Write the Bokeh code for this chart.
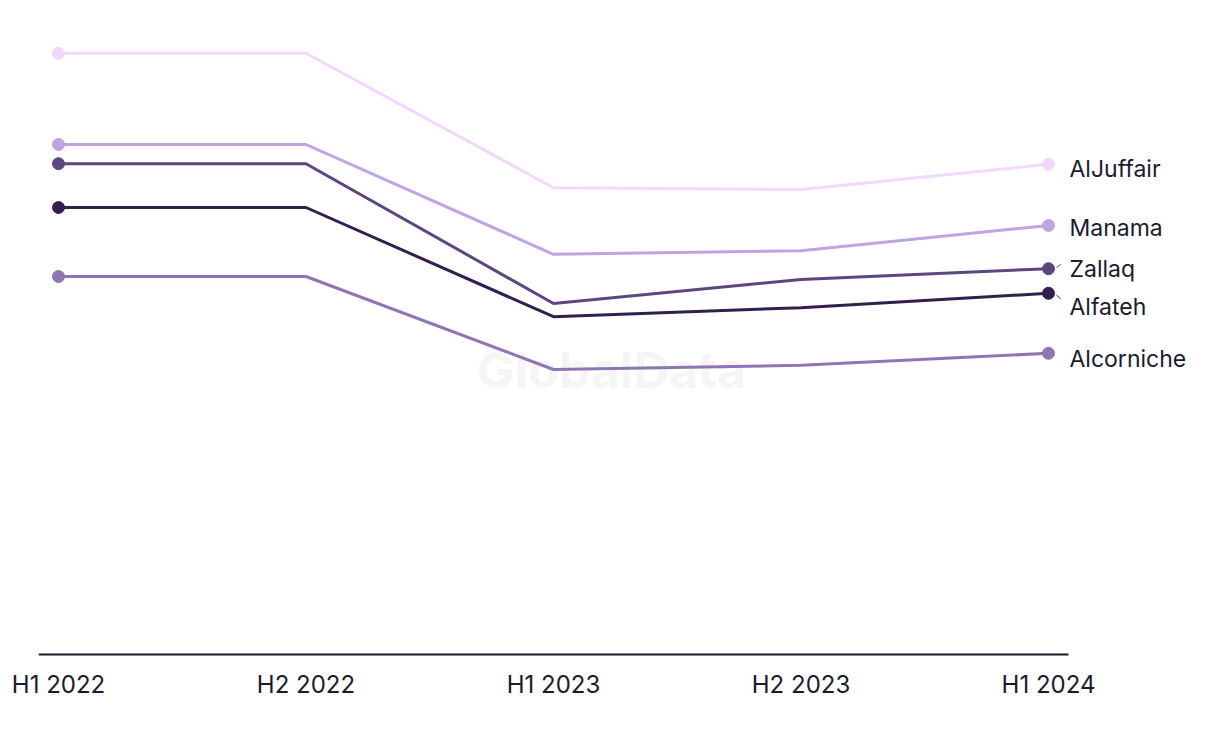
from bokeh.plotting import figure
from bokeh.models import ColumnDataSource, FixedTicker, Range1d
from bokeh.core.properties import value
from bokeh.embed import file_html
from bokeh.resources import INLINE

periods = ["H1 2022", "H2 2022", "H1 2023", "H2 2023", "H1 2024"]
aljuffair = [100.2, 100.2, 77.8, 77.5, 81.7]
manama = [85.0, 85.0, 66.7, 67.3, 71.5]
zallaq = [81.8, 81.8, 58.5, 62.5, 64.3]
alfateh = [74.5, 74.5, 56.3, 57.8, 60.2]
alcorniche = [63.0, 63.0, 47.5, 48.2, 50.2]

series = [
    ("AlJuffair", aljuffair, "#F2D9FB", -5),
    ("Manama", manama, "#C0A4E1", -2),
    ("Zallaq", zallaq, "#5D4680", 0),
    ("Alfateh", alfateh, "#331F4F", -14),
    ("Alcorniche", alcorniche, "#8F76B3", -6),
]

TEXT = "#1B1A2E"
FONT = "Inter"

xs = list(range(len(periods)))
ppu = 247.5  # px per category step
p = figure(width=1220, height=744, output_backend="svg", toolbar_location=None,
           x_range=Range1d(-20 / ppu, 4 + 172 / ppu), y_range=Range1d(-0.5, 109),
           min_border_left=38, min_border_right=0, min_border_top=0, min_border_bottom=87)
p.outline_line_color = None
p.grid.visible = False
p.yaxis.visible = False
p.background_fill_color = "white"
p.border_fill_color = "white"

# watermark
p.text(x=[2.234], y=[47.5], text=["GlobalData"], text_align="center", text_baseline="middle",
       text_font=value(FONT), text_font_size="50px", text_font_style="bold", text_color="#F5F5F5")

# baseline
p.segment(x0=[-20 / ppu], x1=[4 + 20 / ppu], y0=[0], y1=[0], line_color="#1B1A2E", line_width=2)

for name, vals, color, dy in series:
    p.line(xs, vals, line_color=color, line_width=3)
    p.scatter([xs[0], xs[-1]], [vals[0], vals[-1]], size=12, fill_color=color, line_color=color)
    p.text(x=[xs[-1]], y=[vals[-1]], text=[name], x_offset=21, y_offset=-dy,
           text_align="left", text_baseline="middle", text_font=value(FONT),
           text_font_size="23px", text_color=TEXT)

# small connectors to displaced labels
p.segment(x0=[4 + 8 / ppu], x1=[4 + 12 / ppu], y0=[zallaq[-1] + 0.2], y1=[zallaq[-1] + 0.7],
          line_color="#5D4680", line_width=1)
p.segment(x0=[4 + 8 / ppu], x1=[4 + 12 / ppu], y0=[alfateh[-1] - 0.3], y1=[alfateh[-1] - 0.9],
          line_color="#331F4F", line_width=1)

p.xaxis.ticker = FixedTicker(ticks=xs)
p.xaxis.major_label_overrides = {i: s for i, s in enumerate(periods)}
p.xaxis.axis_line_color = None
p.xaxis.major_tick_line_color = None
p.xaxis.minor_tick_line_color = None
p.xaxis.major_label_standoff = 6
p.xaxis.major_label_text_font = FONT
p.xaxis.major_label_text_font_size = "24px"
p.xaxis.major_label_text_color = TEXT

open("out.html", "w").write(file_html(p, INLINE))
